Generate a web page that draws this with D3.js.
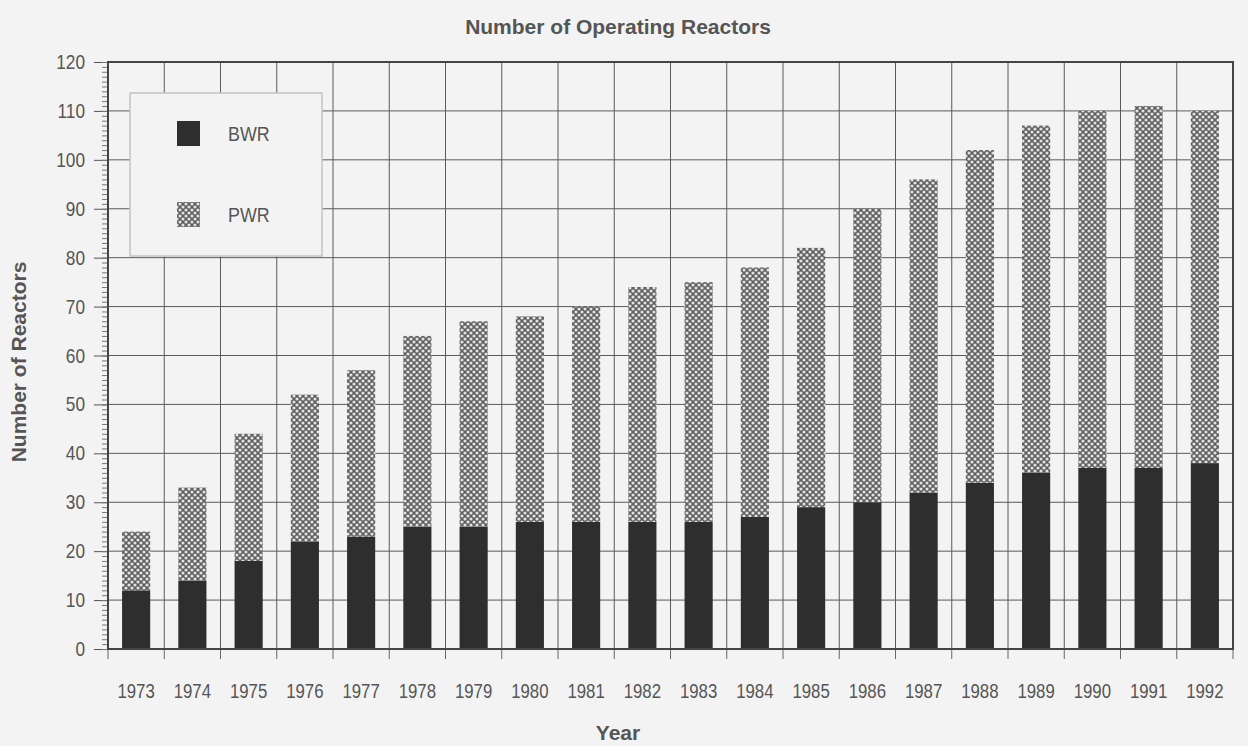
<!DOCTYPE html>
<html>
<head>
<meta charset="utf-8">
<script src="https://cdn.jsdelivr.net/npm/d3@7"></script>
<style>
  body { margin: 0; background: #f3f3f3; }
  text { font-family: "Liberation Sans", Arial, sans-serif; fill: #555; }
</style>
</head>
<body>
<svg id="chart" width="1248" height="746"></svg>
<script>
// values
var years = ["1973","1974","1975","1976","1977","1978","1979","1980","1981","1982",
             "1983","1984","1985","1986","1987","1988","1989","1990","1991","1992"];
var bwr   = [12,14,18,22,23,25,25,26,26,26,26,27,29,30,32,34,36,37,37,38];
var pwr   = [12,19,26,30,34,39,42,42,44,48,49,51,53,60,64,68,71,73,74,72];
var yTicks = [0,10,20,30,40,50,60,70,80,90,100,110,120];
var seriesNames = ["BWR","PWR"];

var svg = d3.select("#chart");
var pLeft = 108, pRight = 1233, pTop = 62, pBottom = 649;

var x = d3.scaleBand().domain(years).range([pLeft, pRight]).paddingInner(0.5).paddingOuter(0.25);
var xEdge = d3.scaleLinear().domain([0, years.length]).range([pLeft, pRight]);
var y = d3.scaleLinear().domain([0, 120]).range([pBottom, pTop]);

// narrow looking text: squeeze horizontally around the anchor point
function narrowText(g, tx, ty, str, anchor, size, sx) {
    return g.append("text")
        .attr("transform", "translate(" + tx + "," + ty + ") scale(" + sx + ",1)")
        .attr("text-anchor", anchor)
        .style("font-size", size + "px")
        .attr("fill", "#666")
        .text(str);
}

// hatch for PWR
var defs = svg.append("defs");
var pat = defs.append("pattern").attr("id", "hatch")
    .attr("patternUnits", "userSpaceOnUse").attr("width", 6).attr("height", 6);
pat.append("rect").attr("width", 6).attr("height", 6).attr("fill", "#5e5e5e");
[[0,0],[6,0],[0,6],[6,6],[3,3]].forEach(function(p){
    pat.append("circle").attr("cx", p[0]).attr("cy", p[1]).attr("r", 1.6).attr("fill", "#e2e2e2");
});

// grid
var grid = svg.append("g");
grid.selectAll("line.h").data(yTicks).enter().append("line")
    .attr("x1", pLeft).attr("x2", pRight)
    .attr("y1", function(d){ return y(d); }).attr("y2", function(d){ return y(d); })
    .attr("stroke", "#5a5a5a").attr("stroke-width", 1);
grid.selectAll("line.v").data(d3.range(1, years.length)).enter().append("line")
    .attr("x1", function(d){ return xEdge(d); }).attr("x2", function(d){ return xEdge(d); })
    .attr("y1", pTop).attr("y2", pBottom)
    .attr("stroke", "#5a5a5a").attr("stroke-width", 1);

// y axis ticks (major + minor)
var yAxis = d3.axisLeft(y).tickValues(yTicks).tickSize(14).tickFormat("");
var ya = svg.append("g").attr("transform", "translate(" + pLeft + ",0)").call(yAxis);
ya.select(".domain").remove();
ya.selectAll("line").attr("stroke", "#555");

var yMinor = d3.axisLeft(y).tickValues(d3.range(0, 121)).tickSize(6).tickFormat("");
var ym = svg.append("g").attr("transform", "translate(" + pLeft + ",0)").call(yMinor);
ym.select(".domain").remove();
ym.selectAll("line").attr("stroke", "#777");

var yLab = svg.append("g");
yTicks.forEach(function(t){
    narrowText(yLab, 85, y(t) + 7, String(t), "end", 21, 0.82);
});

// x axis ticks and labels
var xt = svg.append("g");
xt.selectAll("line").data(d3.range(0, years.length + 1)).enter().append("line")
    .attr("x1", function(d){ return xEdge(d); }).attr("x2", function(d){ return xEdge(d); })
    .attr("y1", pBottom).attr("y2", pBottom + 10)
    .attr("stroke", "#666");
var xLab = svg.append("g");
years.forEach(function(yr){
    narrowText(xLab, x(yr) + x.bandwidth() / 2, 698, yr, "middle", 21, 0.8);
});

// bars
var bars = svg.append("g");
bars.selectAll("rect.bwr").data(years).enter().append("rect")
    .attr("x", function(d){ return x(d); })
    .attr("width", x.bandwidth())
    .attr("y", function(d, i){ return y(bwr[i]); })
    .attr("height", function(d, i){ return y(0) - y(bwr[i]); })
    .attr("fill", "#2e2e2e");
bars.selectAll("rect.pwr").data(years).enter().append("rect")
    .attr("x", function(d){ return x(d); })
    .attr("width", x.bandwidth())
    .attr("y", function(d, i){ return y(bwr[i] + pwr[i]); })
    .attr("height", function(d, i){ return y(bwr[i]) - y(bwr[i] + pwr[i]); })
    .attr("fill", "url(#hatch)");

// frame
svg.append("rect").attr("x", pLeft).attr("y", pTop)
    .attr("width", pRight - pLeft).attr("height", pBottom - pTop)
    .attr("fill", "none").attr("stroke", "#444").attr("stroke-width", 2);

// legend
var lg = svg.append("g");
lg.append("rect").attr("x", 130).attr("y", 93).attr("width", 192).attr("height", 163)
    .attr("fill", "#f3f3f3").attr("stroke", "#c4c4c4").attr("stroke-width", 1.5);
seriesNames.forEach(function(name, i){
    lg.append("rect").attr("x", 177).attr("y", 121 + i * 81).attr("width", 23).attr("height", 25)
        .attr("fill", i === 0 ? "#2e2e2e" : "url(#hatch)");
    narrowText(lg, 228, 141 + i * 81, name, "start", 21, 0.85);
});

// titles
svg.append("text").attr("x", 618).attr("y", 34).attr("text-anchor", "middle")
    .style("font-size", "21px").style("font-weight", "bold").attr("fill", "#555")
    .text("Number of Operating Reactors");
svg.append("text").attr("x", 618).attr("y", 740).attr("text-anchor", "middle")
    .style("font-size", "21px").style("font-weight", "bold").attr("fill", "#555")
    .text("Year");
svg.append("text").attr("transform", "translate(26,362) rotate(-90)").attr("text-anchor", "middle")
    .style("font-size", "21px").style("font-weight", "bold").attr("fill", "#555")
    .text("Number of Reactors");
</script>
</body>
</html>
